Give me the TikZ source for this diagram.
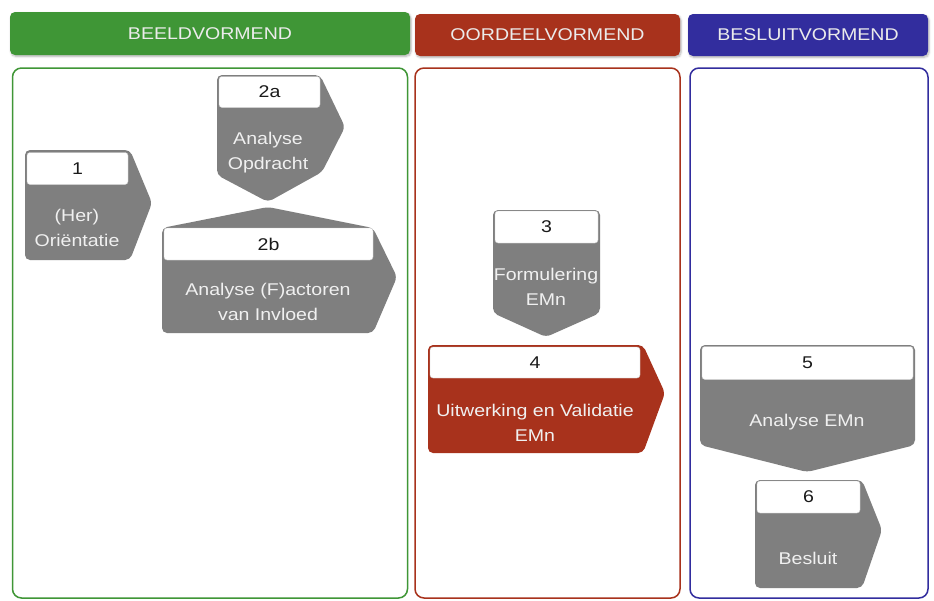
\documentclass[tikz,border=0pt]{standalone}
\usepackage{fontspec}
\setmainfont{Liberation Sans}
\newfontfamily\widesans[FakeStretch=1.15]{Liberation Sans}
\usetikzlibrary{positioning, shadows.blur}
\definecolor{beeld}{HTML}{3F9636}
\definecolor{oordeel}{HTML}{A8321C}
\definecolor{besluit}{HTML}{322D9E}
\definecolor{stepgray}{HTML}{7F7F7F}
\definecolor{ink}{HTML}{1A1A1A}
\tikzset{
  header/.style ={fill=#1, rounded corners=5pt, text=white!92!black,
                  font=\widesans\fontsize{17}{20}\selectfont, inner sep=0pt,
                  blur shadow={shadow blur steps=5, shadow xshift=1pt,
                  shadow yshift=-1.5pt, shadow opacity=30}},
  panel/.style  ={draw=#1, line width=1.5pt, rounded corners=9pt, fill=white,
                  inner sep=0pt},
  stepbody/.style={fill=stepgray, rounded corners=5pt},
  numbox/.style ={fill=white, draw=stepgray!40, rounded corners=3pt,
                  inner sep=0pt, text=ink, font=\widesans\fontsize{17}{20}\selectfont},
  steptext/.style={text=white!94!black, align=center,
                  font=\widesans\fontsize{17}{25}\selectfont}
}
\begin{document}
\begin{tikzpicture}[x=1pt, y=-1pt]
  \useasboundingbox (0,0) rectangle (934,600);

  % Koppen
  \node[header=beeld, minimum width=400pt, minimum height=43pt] (hbeeld) at (210,33.5) {BEELDVORMEND};
  \node[header=oordeel, minimum width=265pt, minimum height=42pt] (hoordeel) at (547.5,35) {OORDEELVORMEND};
  \node[header=besluit, minimum width=240pt, minimum height=42pt] (hbesluit) at (808,35) {BESLUITVORMEND};

  % Kolommen
  \node[panel=beeld, minimum width=395pt, minimum height=530pt] (pbeeld) at (210,333) {};
  \node[panel=oordeel, minimum width=265pt, minimum height=530pt] (poordeel) at (547.5,333) {};
  \node[panel=besluit, minimum width=238pt, minimum height=530pt] (pbesluit) at (809,333) {};

  % Stap 1
  \fill[stepbody] (25,150) -- (130,150) -- (152,203) -- (130,260) -- (25,260) -- cycle;
  \node[numbox, minimum width=101pt, minimum height=32pt] (n1) at (77.5,168.5) {1};
  \node[steptext] (t1) at (77,228) {(Her)\\Oriëntatie};

  % Stap 2a
  \fill[stepbody] (217,75) -- (320,75) -- (345,127) -- (322,172) -- (268,202) -- (217,175) -- cycle;
  \node[numbox, minimum width=101pt, minimum height=31pt] (n2a) at (269.5,92) {2a};
  \node[steptext] (t2a) at (268,153) {Analyse\\Opdracht};

  % Stap 2b
  \fill[stepbody] (268,207) -- (373,228) -- (397,277) -- (373,333) -- (162,333) -- (162,228) -- cycle;
  \node[numbox, minimum width=209pt, minimum height=32pt] (n2b) at (268.5,244) {2b};
  \node[steptext] (t2b) at (268,302) {Analyse (F)actoren\\van Invloed};

  % Stap 3
  \fill[stepbody] (493,210) -- (600,210) -- (600,313) -- (546,337) -- (493,313) -- cycle;
  \node[numbox, minimum width=103pt, minimum height=32pt] (n3) at (546.5,227) {3};
  \node[steptext] (t3) at (546,287) {Formulering\\EMn};

  % Stap 4
  \fill[stepbody, fill=oordeel] (428,345) -- (643,345) -- (665,393) -- (643,453) -- (428,453) -- cycle;
  \node[numbox, minimum width=210pt, minimum height=31pt] (n4) at (535,362.5) {4};
  \node[steptext] (t4) at (535,423) {Uitwerking en Validatie\\EMn};

  % Stap 5
  \fill[stepbody] (700,345) -- (915,345) -- (915,445) -- (807,472) -- (700,445) -- cycle;
  \node[numbox, minimum width=211pt, minimum height=33pt] (n5) at (807.5,363) {5};
  \node[steptext] (t5) at (807,422) {Analyse EMn};

  % Stap 6
  \fill[stepbody] (755,480) -- (862,480) -- (882,530) -- (862,588) -- (755,588) -- cycle;
  \node[numbox, minimum width=103pt, minimum height=32pt] (n6) at (808.5,497) {6};
  \node[steptext] (t6) at (808,558) {Besluit};
\end{tikzpicture}
\end{document}
